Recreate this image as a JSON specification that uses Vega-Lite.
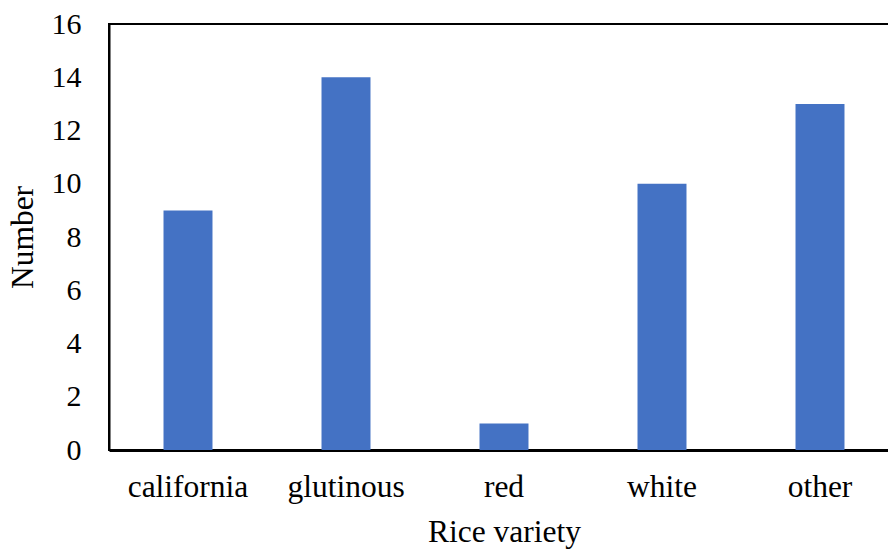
{
  "$schema": "https://vega.github.io/schema/vega-lite/v6.json",
  "autosize": {"type": "none"},
  "padding": {"left": 109, "top": 24, "right": 0, "bottom": 100},
  "width": 790,
  "height": 426,
  "background": "white",
  "config": {
    "font": "'Liberation Serif', 'Times New Roman', Times, serif",
    "view": {"stroke": "black", "strokeWidth": 2},
    "axis": {
      "labelFont": "'Liberation Serif', 'Times New Roman', Times, serif",
      "titleFont": "'Liberation Serif', 'Times New Roman', Times, serif",
      "labelFontSize": 30,
      "titleFontSize": 31.5,
      "titleFontWeight": "normal",
      "labelColor": "black",
      "titleColor": "black",
      "domainColor": "black",
      "grid": false,
      "ticks": false
    }
  },
  "data": {
    "values": [
      {"variety": "california", "count": 9},
      {"variety": "glutinous", "count": 14},
      {"variety": "red", "count": 1},
      {"variety": "white", "count": 10},
      {"variety": "other", "count": 13}
    ]
  },
  "mark": {"type": "bar", "color": "#4472C4"},
  "encoding": {
    "x": {
      "field": "variety",
      "type": "nominal",
      "sort": null,
      "title": "Rice variety",
      "scale": {"paddingInner": 0.69, "paddingOuter": 0.345},
      "axis": {"labelAngle": 0, "labelFontSize": 31.5, "labelPadding": 21, "titlePadding": 14, "domainWidth": 3}
    },
    "y": {
      "field": "count",
      "type": "quantitative",
      "title": "Number",
      "scale": {"domain": [0, 16], "nice": false},
      "axis": {"values": [0, 2, 4, 6, 8, 10, 12, 14, 16], "labelPadding": 28, "titlePadding": 12, "domainWidth": 2}
    }
  }
}
